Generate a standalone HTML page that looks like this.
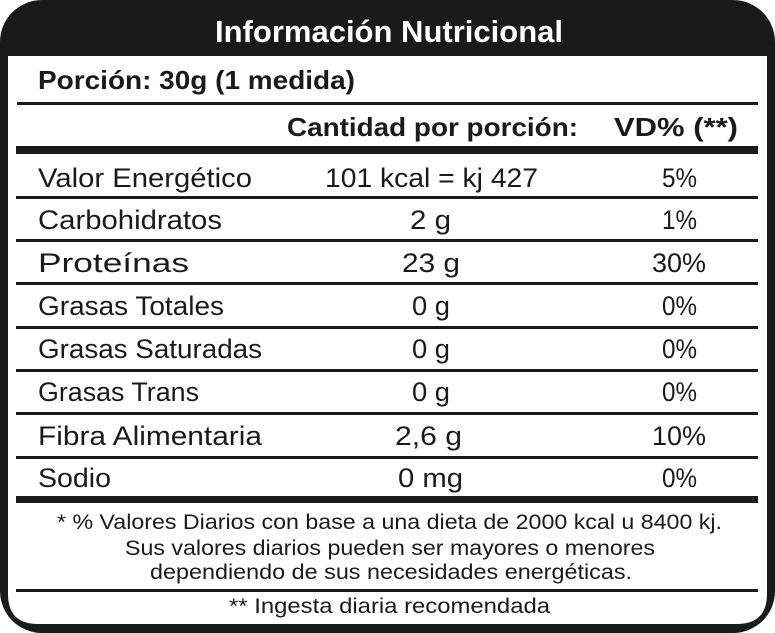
<!DOCTYPE html>
<html><head><meta charset="utf-8"><style>html,body{margin:0;padding:0;background:#fff}svg{display:block}</style></head>
<body>
<svg width="775" height="633" viewBox="0 0 775 633" xmlns="http://www.w3.org/2000/svg" font-family="'Liberation Sans', sans-serif" fill="#1a1a1a">
<rect x="0" y="0" width="775" height="633" rx="42" fill="#1a1a1a"/>
<path d="M8 56 H767 V594 Q767 624 737 624 H38 Q8 624 8 594 Z" fill="#fff"/>
<text x="389" y="42" text-anchor="middle" font-size="31" font-weight="bold" fill="#fff" textLength="348" lengthAdjust="spacingAndGlyphs">Información Nutricional</text>
<text x="38" y="89" font-size="26" font-weight="bold" textLength="317" lengthAdjust="spacingAndGlyphs">Porción: 30g (1 medida)</text>
<rect x="17" y="102" width="741" height="3"/>
<text x="287" y="136" font-size="26" font-weight="bold" textLength="291" lengthAdjust="spacingAndGlyphs">Cantidad por porción:</text>
<text x="614" y="136" font-size="26" font-weight="bold" textLength="124" lengthAdjust="spacingAndGlyphs">VD% (**)</text>
<rect x="16" y="146" width="742" height="8"/>
<g font-size="27">
<text x="38" y="187" textLength="214" lengthAdjust="spacingAndGlyphs">Valor Energético</text>
<text x="325" y="187" textLength="213" lengthAdjust="spacingAndGlyphs">101 kcal = kj 427</text>
<text x="662" y="187" textLength="35" lengthAdjust="spacingAndGlyphs">5%</text>
<rect x="16" y="196" width="742" height="3"/>
<text x="38" y="229" textLength="184" lengthAdjust="spacingAndGlyphs">Carbohidratos</text>
<text x="410" y="229" textLength="41" lengthAdjust="spacingAndGlyphs">2 g</text>
<text x="662" y="229" textLength="35" lengthAdjust="spacingAndGlyphs">1%</text>
<rect x="16" y="239" width="742" height="3"/>
<text x="38" y="272" textLength="151" lengthAdjust="spacingAndGlyphs">Proteínas</text>
<text x="402" y="272" textLength="58" lengthAdjust="spacingAndGlyphs">23 g</text>
<text x="652" y="272" textLength="54" lengthAdjust="spacingAndGlyphs">30%</text>
<rect x="16" y="282" width="742" height="3"/>
<text x="38" y="315" textLength="186" lengthAdjust="spacingAndGlyphs">Grasas Totales</text>
<text x="412" y="315" textLength="38" lengthAdjust="spacingAndGlyphs">0 g</text>
<text x="662" y="315" textLength="35" lengthAdjust="spacingAndGlyphs">0%</text>
<rect x="16" y="326" width="742" height="3"/>
<text x="38" y="358" textLength="224" lengthAdjust="spacingAndGlyphs">Grasas Saturadas</text>
<text x="412" y="358" textLength="38" lengthAdjust="spacingAndGlyphs">0 g</text>
<text x="662" y="358" textLength="35" lengthAdjust="spacingAndGlyphs">0%</text>
<rect x="16" y="369" width="742" height="3"/>
<text x="38" y="401" textLength="161" lengthAdjust="spacingAndGlyphs">Grasas Trans</text>
<text x="412" y="401" textLength="38" lengthAdjust="spacingAndGlyphs">0 g</text>
<text x="662" y="401" textLength="35" lengthAdjust="spacingAndGlyphs">0%</text>
<rect x="16" y="412" width="742" height="3"/>
<text x="38" y="445" textLength="224" lengthAdjust="spacingAndGlyphs">Fibra Alimentaria</text>
<text x="395" y="445" textLength="67" lengthAdjust="spacingAndGlyphs">2,6 g</text>
<text x="652" y="445" textLength="54" lengthAdjust="spacingAndGlyphs">10%</text>
<rect x="16" y="456" width="742" height="3"/>
<text x="38" y="487" textLength="73" lengthAdjust="spacingAndGlyphs">Sodio</text>
<text x="398" y="487" textLength="65" lengthAdjust="spacingAndGlyphs">0 mg</text>
<text x="662" y="487" textLength="35" lengthAdjust="spacingAndGlyphs">0%</text>
</g>
<rect x="16" y="496" width="742" height="7"/>
<g font-size="21">
<text x="57" y="529" textLength="665" lengthAdjust="spacingAndGlyphs">* % Valores Diarios con base a una dieta de 2000 kcal u 8400 kj.</text>
<text x="125" y="555" textLength="530" lengthAdjust="spacingAndGlyphs">Sus valores diarios pueden ser mayores o menores</text>
<text x="150" y="579" textLength="482" lengthAdjust="spacingAndGlyphs">dependiendo de sus necesidades energéticas.</text>
<rect x="16" y="589" width="742" height="3"/>
<text x="229" y="613" textLength="321" lengthAdjust="spacingAndGlyphs">** Ingesta diaria recomendada</text>
</g>
</svg>
</body></html>
